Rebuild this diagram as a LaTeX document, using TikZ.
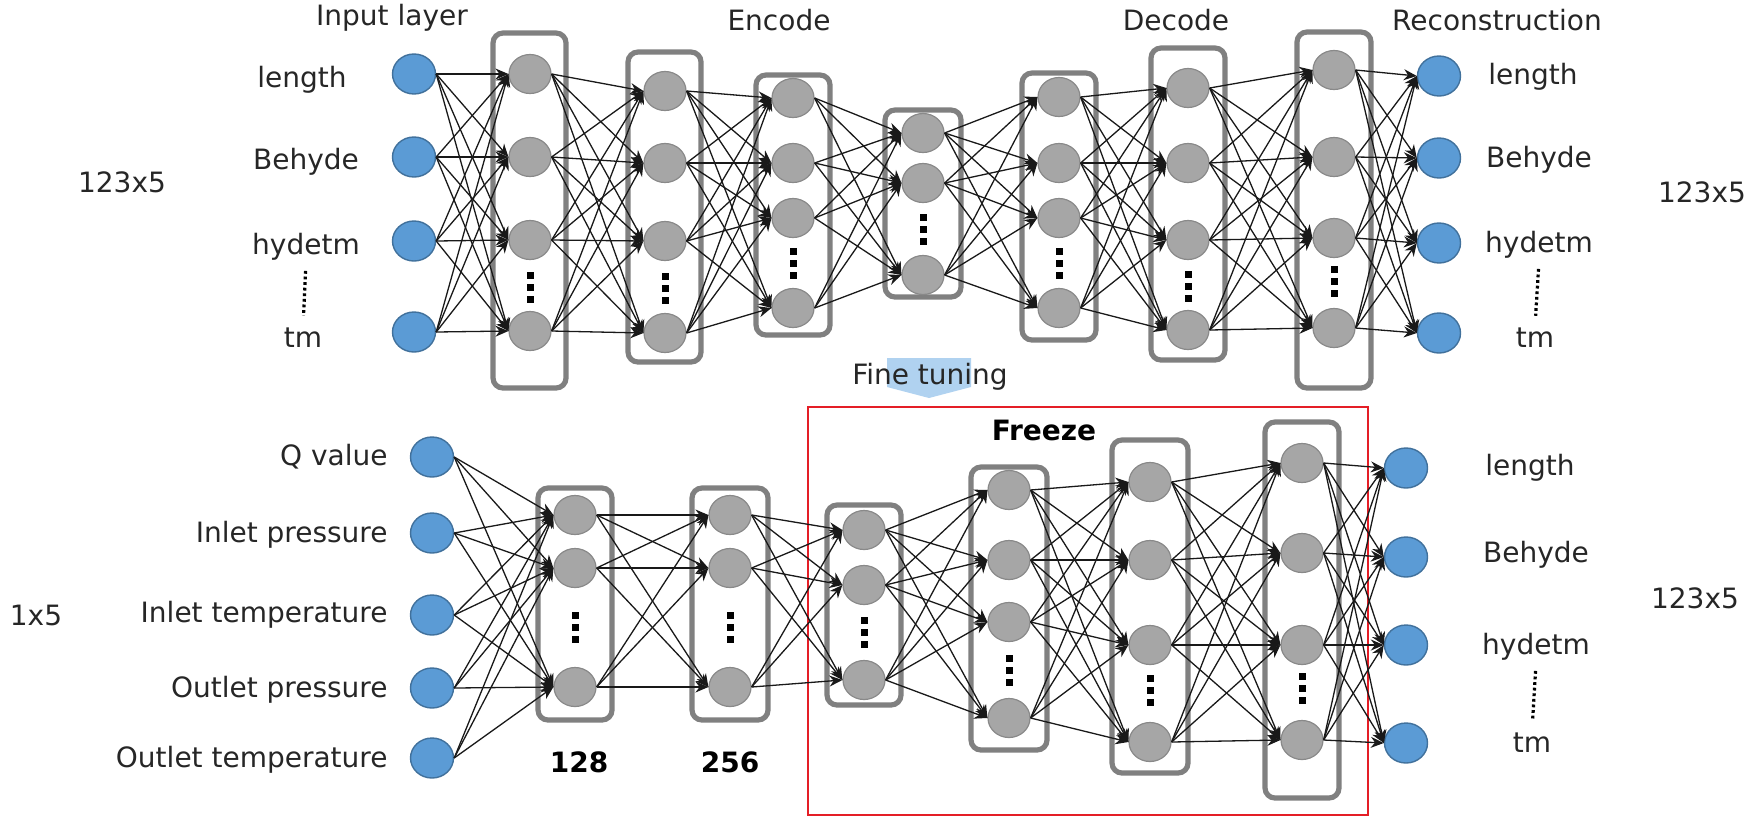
\documentclass[tikz,border=0pt]{standalone}
\usepackage{fontspec}
\setmainfont{DejaVu Sans}
\usetikzlibrary{arrows.meta,shapes.geometric}
\definecolor{inblue}{RGB}{91,155,213}
\definecolor{inbluedk}{RGB}{65,113,156}
\definecolor{hidgray}{RGB}{166,166,166}
\definecolor{hidgraydk}{RGB}{137,137,137}
\definecolor{boxgray}{RGB}{128,128,128}
\definecolor{tuneblue}{RGB}{176,210,240}
\definecolor{freezered}{RGB}{228,30,38}
\newcommand{\linklayers}[4]{%
  \foreach \i in {1,...,#2}{\foreach \j in {1,...,#4}{\draw[link] (#1\i.east) -- (#3\j.west);}}}

\begin{document}
\begin{tikzpicture}[x=0.5pt,y=-0.5pt,
  inp/.style={ellipse,draw=inbluedk,fill=inblue,line width=0.7pt,minimum width=21.5pt,minimum height=20pt,inner sep=0pt},
  hid/.style={ellipse,draw=hidgraydk,fill=hidgray,line width=0.6pt,minimum width=21pt,minimum height=19.5pt,inner sep=0pt},
  layerbox/.style={draw=boxgray,line width=2.6pt,rounded corners=5pt,fill=white},
  link/.style={draw=black!90,line width=0.65pt,-{Stealth[length=6.5pt,width=5.5pt]}},
  lbl/.style={font=\fontsize{14}{16}\selectfont,text=black!85,inner sep=1pt},
  numlbl/.style={font=\fontsize{14}{16}\selectfont\bfseries,inner sep=1pt},
  vdotline/.style={line width=1.6pt,dash pattern=on 1.4pt off 1.4pt,shorten <=4pt,shorten >=5pt},
  sqdots/.pic={\foreach \d in {-12,0,12} \fill (-3.5,\d-3.5) rectangle ++(7,7);}]
\useasboundingbox (0,0) rectangle (1745,826);

\draw[freezered,line width=0.8pt] (808,407) rectangle (1368,815);
\fill[tuneblue] (887,358) -- (971,358) -- (971,387) -- (929,398) -- (887,387) -- cycle;

\draw[layerbox] (493,33) rectangle (566,388);
\draw[layerbox] (628,52) rectangle (701,362);
\draw[layerbox] (756,75) rectangle (830,335);
\draw[layerbox] (885,110) rectangle (961,297);
\draw[layerbox] (1022,73) rectangle (1096,340);
\draw[layerbox] (1151,48) rectangle (1225,360);
\draw[layerbox] (1297,32) rectangle (1371,388);

\draw[layerbox] (538,488) rectangle (612,720);
\draw[layerbox] (692,488) rectangle (768,720);
\draw[layerbox] (827,505) rectangle (901,705);
\draw[layerbox] (971,467) rectangle (1047,750);
\draw[layerbox] (1112,440) rectangle (1188,773);
\draw[layerbox] (1265,422) rectangle (1339,798);

\foreach \n/\y in {1/74,2/157,3/241,4/332} \node[inp] (tin\n) at (414,\y) {};
\foreach \n/\y in {1/74,2/157,3/240,4/331} \node[hid] (ta\n) at (530,\y) {};
\foreach \n/\y in {1/91,2/163,3/241,4/333} \node[hid] (tb\n) at (665,\y) {};
\foreach \n/\y in {1/98,2/163,3/218,4/308} \node[hid] (tc\n) at (793,\y) {};
\foreach \n/\y in {1/133,2/183,3/275} \node[hid] (td\n) at (923,\y) {};
\foreach \n/\y in {1/97,2/163,3/218,4/308} \node[hid] (te\n) at (1059,\y) {};
\foreach \n/\y in {1/88,2/163,3/240,4/330} \node[hid] (tf\n) at (1188,\y) {};
\foreach \n/\y in {1/70,2/157,3/238,4/328} \node[hid] (tg\n) at (1334,\y) {};
\foreach \n/\y in {1/76,2/158,3/243,4/333} \node[inp] (tout\n) at (1439,\y) {};

\foreach \n/\y in {1/457,2/533,3/615,4/688,5/758} \node[inp] (bin\n) at (432,\y) {};
\foreach \n/\y in {1/515,2/568,3/687} \node[hid] (ba\n) at (575,\y) {};
\foreach \n/\y in {1/515,2/568,3/687} \node[hid] (bb\n) at (730,\y) {};
\foreach \n/\y in {1/530,2/585,3/680} \node[hid] (bc\n) at (864,\y) {};
\foreach \n/\y in {1/490,2/560,3/622,4/718} \node[hid] (bd\n) at (1009,\y) {};
\foreach \n/\y in {1/482,2/560,3/645,4/742} \node[hid] (be\n) at (1150,\y) {};
\foreach \n/\y in {1/463,2/553,3/645,4/740} \node[hid] (bf\n) at (1302,\y) {};
\foreach \n/\y in {1/468,2/557,3/645,4/743} \node[inp] (bout\n) at (1406,\y) {};

\foreach \x/\y in {530/287,665/288,793/263,923/229,1059/263,1188/286,1334/281,
  575/627,730/627,864/632,1009/670,1150/690,1302/688} \pic at (\x,\y) {sqdots};

\linklayers{tin}{4}{ta}{4}
\linklayers{ta}{4}{tb}{4}
\linklayers{tb}{4}{tc}{4}
\linklayers{tc}{4}{td}{3}
\linklayers{td}{3}{te}{4}
\linklayers{te}{4}{tf}{4}
\linklayers{tf}{4}{tg}{4}
\linklayers{tg}{4}{tout}{4}

\linklayers{bin}{5}{ba}{3}
\linklayers{ba}{3}{bb}{3}
\linklayers{bb}{3}{bc}{3}
\linklayers{bc}{3}{bd}{4}
\linklayers{bd}{4}{be}{4}
\linklayers{be}{4}{bf}{4}
\linklayers{bf}{4}{bout}{4}

\node[lbl] (tinput) at (392,18) {Input layer};
\node[lbl] (tenc) at (779,20) {Encode};
\node[lbl] (tdec) at (1176,20) {Decode};
\node[lbl] (trec) at (1497,20) {Reconstruction};
\node[lbl] (tfine) at (930,377) {Fine tuning};

\node[lbl] (tlsize) at (122,182) {123x5};
\node[lbl] (tlen) at (302,80) {length};
\node[lbl] (tbeh) at (306,162) {Behyde};
\node[lbl] (thyd) at (306,247) {hydetm};
\node[lbl] (ttm) at (303,338) {tm};
\draw[vdotline] (thyd.south) -- (ttm.north);

\node[lbl] (trsize) at (1702,192) {123x5};
\node[lbl] (trlen) at (1533,77) {length};
\node[lbl] (trbeh) at (1539,160) {Behyde};
\node[lbl] (trhyd) at (1539,245) {hydetm};
\node[lbl] (trtm) at (1535,338) {tm};
\draw[vdotline] (trhyd.south) -- (trtm.north);

\node[lbl] (blsize) at (36,615) {1x5};
\node[lbl,anchor=east] (bq) at (390,457) {Q value};
\node[lbl,anchor=east] (bip) at (390,535) {Inlet pressure};
\node[lbl,anchor=east] (bit) at (390,615) {Inlet temperature};
\node[lbl,anchor=east] (bop) at (390,690) {Outlet pressure};
\node[lbl,anchor=east] (bot) at (390,760) {Outlet temperature};
\node[numlbl] (b128) at (579,762) {128};
\node[numlbl] (b256) at (730,762) {256};
\node[numlbl] (bfreeze) at (1044,430) {Freeze};

\node[lbl] (brsize) at (1695,598) {123x5};
\node[lbl] (brlen) at (1530,468) {length};
\node[lbl] (brbeh) at (1536,555) {Behyde};
\node[lbl] (brhyd) at (1536,647) {hydetm};
\node[lbl] (brtm) at (1532,743) {tm};
\draw[vdotline] (brhyd.south) -- (brtm.north);
\end{tikzpicture}
\end{document}
